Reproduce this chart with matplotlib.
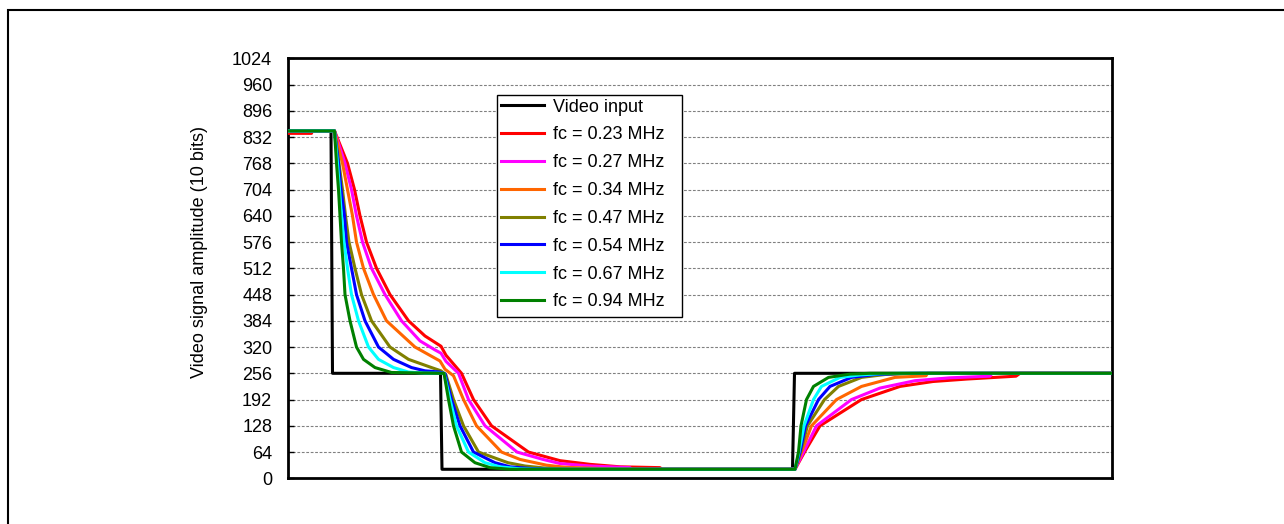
import matplotlib
matplotlib.use("Agg")
import matplotlib.pyplot as plt
from matplotlib.patches import Rectangle

plt.rcParams['font.family'] = ['Liberation Sans', 'DejaVu Sans']

# ---------------- data (sample index vs 10-bit amplitude) ----------------
yticks = [0, 64, 128, 192, 256, 320, 384, 448, 512, 576, 640, 704, 768, 832, 896, 960, 1024]

input_x = [0, 43.5, 45, 153, 154.5, 505, 507, 825]
input_y = [847, 847, 256, 256, 22, 22, 256, 256]

red_x = [0, 24, 25, 47, 60, 67, 72.5, 79, 89, 102.5, 121, 137.5, 153.5, 158.5, 174, 186, 204, 241,
         272.5, 302.5, 332.5, 372.5, 374.5, 507.5, 517, 532.5, 574, 612.5, 645.5, 679.5, 728.5, 732.5, 825]
red_y = [841, 841, 847, 847, 768, 704, 640, 576, 512, 448, 384, 347, 322, 300, 256, 192, 128, 64,
         43, 34, 28, 26, 22, 22, 64, 128, 192, 224, 236, 242, 249, 256, 256]

magenta_x = [0, 47, 57.5, 64, 69, 75, 84, 97.5, 114, 132.5, 147.5, 153.5, 158.5, 171, 181, 197.5, 229.5,
             255.5, 272.5, 302.5, 342.5, 344.5, 507.5, 516, 529, 564, 592.5, 627.5, 662.5, 702.5, 704.5, 825]
magenta_y = [847, 847, 768, 704, 640, 576, 512, 448, 384, 335, 313, 305, 285, 256, 192, 128, 64,
             46, 36, 30, 26, 22, 22, 64, 128, 192, 220, 238, 245, 249, 256, 256]

orange_x = [0, 47, 55, 60, 65, 69, 76, 86, 99, 127.5, 152.5, 157.5, 166, 176, 189, 214, 232.5, 259,
            277.5, 312.5, 332.5, 362.5, 507.5, 514, 524, 549, 574, 607.5, 638.5, 640, 825]
orange_y = [847, 847, 768, 704, 640, 576, 512, 448, 384, 320, 286, 266, 250, 192, 128, 64, 46, 32,
            27, 24, 23, 22, 22, 64, 128, 192, 224, 246, 250, 256, 256]

olive_x = [0, 47, 51.5, 55, 58, 61.5, 67.5, 74, 84, 102.5, 121, 144, 153.5, 158.5, 166, 176, 191,
           220.5, 237.5, 257.5, 282.5, 507.5, 513, 520, 537, 551, 574, 597.5, 622.5, 642.5, 825]
olive_y = [847, 847, 768, 704, 640, 576, 512, 448, 384, 320, 290, 270, 262, 252, 192, 128, 64,
           38, 30, 25, 22, 22, 64, 128, 192, 224, 246, 253, 255.5, 256, 256]

blue_x = [0, 47, 51, 53.5, 57, 59, 64, 69, 77.5, 91, 106, 124, 137.5, 152.5, 157.5, 164, 172.5, 186,
          207.5, 222.5, 242.5, 262.5, 507.5, 512.5, 518, 531, 542.5, 564, 587.5, 612.5, 632.5, 825]
blue_y = [847, 847, 768, 704, 640, 576, 512, 448, 384, 320, 290, 270, 262, 259, 255, 192, 128, 64,
          38, 28, 24, 22, 22, 64, 128, 192, 224, 246, 253, 255.5, 256, 256]

cyan_x = [0, 47, 50, 52, 54, 56.5, 60, 64, 71, 81, 91, 106, 121, 137.5, 156.5, 162.5, 169, 181,
          197.5, 212.5, 232.5, 252.5, 507.5, 511.5, 516.5, 526, 534, 552.5, 572.5, 592.5, 612.5, 825]
cyan_y = [847, 847, 768, 704, 640, 576, 512, 448, 384, 320, 290, 270, 259, 256.5, 256, 192, 128, 64,
          38, 28, 23, 22, 22, 64, 128, 192, 224, 246, 252, 255, 256, 256]

green_x = [0, 47, 49, 51, 52.5, 54, 56, 57.5, 62.5, 69, 76, 87.5, 104, 152.5, 156.5, 161, 166, 174,
           187.5, 202.5, 222.5, 507.5, 511, 513.5, 519, 526, 541, 562.5, 582.5, 825]
green_y = [847, 847, 768, 704, 640, 576, 512, 448, 384, 320, 290, 270, 258, 256, 256, 192, 128, 64,
           38, 26, 22, 22, 64, 128, 192, 224, 246, 254, 256, 256]

labels = ["Video input", "fc = 0.23 MHz", "fc = 0.27 MHz", "fc = 0.34 MHz", "fc = 0.47 MHz",
          "fc = 0.54 MHz", "fc = 0.67 MHz", "fc = 0.94 MHz"]
colors = ["#000000", "#FF0000", "#FF00FF", "#FF6600", "#808000", "#0000FF", "#00FFFF", "#008000"]
series = [(input_x, input_y), (red_x, red_y), (magenta_x, magenta_y), (orange_x, orange_y),
          (olive_x, olive_y), (blue_x, blue_y), (cyan_x, cyan_y), (green_x, green_y)]

# ---------------- figure ----------------
W, H = 1284, 524
fig = plt.figure(figsize=(W / 100, H / 100), dpi=100)
fig.patch.set_facecolor("white")

# outer frame
fig.patches.append(Rectangle((8 / W, -0.1), 1.2, 1 - 10 / H + 0.1, transform=fig.transFigure,
                             fill=False, edgecolor="black", linewidth=1.5, clip_on=False))

ax_l, ax_r, ax_t, ax_b = 287.5, 1112, 58.3, 478.3
ax = fig.add_axes([ax_l / W, 1 - ax_b / H, (ax_r - ax_l) / W, (ax_b - ax_t) / H])

for (x, y), c, lab in zip(series, colors, labels):
    ax.plot(x, y, color=c, linewidth=2.2, label=lab, solid_joinstyle="round", zorder=3)

ax.set_xlim(0, 824.5)
ax.set_ylim(0, 1024)
ax.set_yticks(yticks)
ax.set_xticks([])
ax.tick_params(axis="y", direction="in", length=4, width=1, pad=11, labelsize=13)
ax.yaxis.grid(True, color="#808080", linewidth=0.8, linestyle=(0, (2.5, 1.5)), zorder=1)
ax.set_axisbelow(True)
for s in ax.spines.values():
    s.set_linewidth(2)
    s.set_color("black")

fig.text(200 / W, 1 - 252 / H, "Video signal amplitude (10 bits)", rotation=90,
         ha="center", va="center", fontsize=13)

# legend box (frame drawn separately to match the reference's padding)
lx0, lx1, ly0, ly1 = 497, 682, 95, 317
ax_w, ax_h = ax_r - ax_l, ax_b - ax_t
box = Rectangle(((lx0 - ax_l) / ax_w, (ax_b - ly1) / ax_h), (lx1 - lx0) / ax_w, (ly1 - ly0) / ax_h,
                transform=ax.transAxes, facecolor="white", edgecolor="black", linewidth=1, zorder=4)
ax.add_patch(box)
leg = ax.legend(loc="upper left", bbox_to_anchor=((lx0 - ax_l) / ax_w, (ax_b - ly0) / ax_h),
                borderaxespad=0, fontsize=13, frameon=False, handlelength=2.4, handletextpad=0.5,
                labelspacing=0.6, borderpad=0.2)
leg.set_zorder(5)

fig.savefig("out.png", dpi=100, facecolor="white")
